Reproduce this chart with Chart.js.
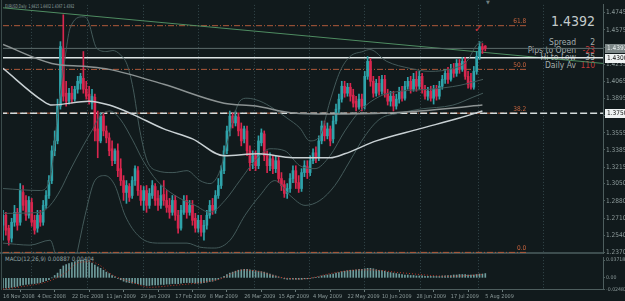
<!DOCTYPE html>
<html>
<head>
<meta charset="utf-8">
<script src="https://cdn.jsdelivr.net/npm/chart.js@4.4.1/dist/chart.umd.min.js"></script>
<style>
  html, body { margin: 0; padding: 0; background: #111a1c; overflow: hidden; }
  #wrap { position: relative; width: 625px; height: 301px; background: #111a1c;
    font-family: "Liberation Sans Narrow", "DejaVu Sans Condensed", "Liberation Sans", Arial, sans-serif; }
  canvas { position: absolute; left: 0; z-index: 2; }
  .t { position: absolute; white-space: nowrap; z-index: 1; line-height: 1; }
  .lab { right: 49px; font-size: 8.5px; color: #a3adad; }
  .val { right: 30px; font-size: 8.5px; color: #a3adad; }
  .red { color: #c23b3b; }
</style>
</head>
<body>
<div id="wrap">
  <div class="t" style="left:5px;top:4px;font-size:5px;color:#93a3a3;transform:scaleX(0.68);transform-origin:0 0">EURUSD,Daily&nbsp; 1.4415 1.4402 1.4367 1.4392</div>
  <div class="t" style="right:30px;top:14px;font-size:14px;color:#c3cbcb">1.4392</div>
  <div class="t lab" style="top:38px">Spread</div><div class="t val" style="top:38px">2</div>
  <div class="t lab" style="top:45.5px">Pips to Open</div><div class="t val red" style="top:45.5px">-23</div>
  <div class="t lab" style="top:53px">Hi to Low</div><div class="t val" style="top:53px">35</div>
  <div class="t lab" style="top:61px">Daily Av</div><div class="t val red" style="top:61px">110</div>
  <div class="t" style="left:474px;top:24px;font-size:10px;color:#e0343c;font-family:'DejaVu Sans'">✓</div>
  <div class="t" style="left:486px;top:0px;font-size:5px;color:#6f7f7f;font-family:'DejaVu Sans'">▼</div>
  <div class="t" style="left:5px;top:256px;font-size:6px;color:#93a3a3">MACD(12,26,9) 0.00887 0.00404</div>
  <div style="position:absolute;left:1px;top:0;width:1px;height:290px;background:#3b4b4b;z-index:1"></div>
  <div style="position:absolute;left:0;top:252px;width:603px;height:2px;background:#3d4d4e;z-index:1"></div>
  <canvas id="main" width="625" height="258" style="top:0"></canvas>
  <canvas id="macd" width="625" height="48" style="top:253px"></canvas>
</div>
<script>
// EURUSD daily, 16 Nov 2008 .. 5 Aug 2009 (one row per bar: open, high, low, close)
const ohlc = [
  [1.2639,1.2787,1.2491,1.2738],[1.2738,1.2767,1.2541,1.2590],[1.2610,1.2639,1.2442,1.2491],[1.2511,1.2708,1.2472,1.2669],
  [1.2669,1.2836,1.2629,1.2767],[1.2767,1.2806,1.2590,1.2639],[1.2669,1.3052,1.2639,1.2983],[1.2964,1.3033,1.2787,1.2836],
  [1.2885,1.2934,1.2688,1.2738],[1.2738,1.2924,1.2708,1.2885],[1.2865,1.2905,1.2629,1.2669],[1.2688,1.2738,1.2551,1.2590],
  [1.2610,1.2787,1.2570,1.2738],[1.2738,1.2787,1.2629,1.2669],[1.2669,1.2885,1.2639,1.2836],[1.2836,1.2983,1.2806,1.2934],
  [1.2934,1.3131,1.2905,1.3082],[1.3082,1.3426,1.3052,1.3377],[1.3377,1.3574,1.3328,1.3475],[1.3475,1.3889,1.3446,1.3820],
  [1.3820,1.4459,1.3790,1.4410],[1.4381,1.4725,1.3869,1.3918],[1.3948,1.4066,1.3820,1.3869],[1.3869,1.3997,1.3840,1.3948],
  [1.3948,1.4017,1.3849,1.3889],[1.3889,1.4017,1.3869,1.3987],[1.3987,1.4115,1.3948,1.4066],[1.4046,1.4145,1.3987,1.4115],
  [1.4095,1.4361,1.3948,1.3987],[1.3987,1.4066,1.3889,1.3918],[1.3938,1.4017,1.3840,1.3869],[1.3849,1.3987,1.3790,1.3918],
  [1.3908,1.3938,1.3475,1.3574],[1.3594,1.3771,1.3308,1.3475],[1.3475,1.3751,1.3456,1.3721],[1.3721,1.3751,1.3525,1.3574],
  [1.3574,1.3623,1.3456,1.3505],[1.3505,1.3554,1.3328,1.3377],[1.3397,1.3475,1.3229,1.3279],[1.3279,1.3397,1.3249,1.3377],
  [1.3377,1.3446,1.3121,1.3180],[1.3200,1.3298,1.3033,1.3082],[1.3082,1.3131,1.2885,1.2964],[1.2964,1.3082,1.2856,1.3033],
  [1.3023,1.3052,1.2875,1.2915],[1.2934,1.3121,1.2905,1.3082],[1.3082,1.3229,1.3033,1.3200],[1.3180,1.3220,1.2934,1.2983],
  [1.2983,1.3033,1.2836,1.2885],[1.2885,1.3023,1.2787,1.2983],[1.2983,1.3033,1.2767,1.2836],[1.2836,1.3003,1.2806,1.2954],
  [1.2934,1.3082,1.2905,1.3033],[1.3023,1.3052,1.2836,1.2885],[1.2905,1.2983,1.2787,1.2836],[1.2836,1.3033,1.2806,1.2934],
  [1.2944,1.3082,1.2836,1.2885],[1.2885,1.2983,1.2767,1.2816],[1.2836,1.2905,1.2708,1.2767],[1.2767,1.2934,1.2738,1.2885],
  [1.2885,1.2934,1.2688,1.2738],[1.2738,1.2787,1.2560,1.2610],[1.2610,1.2836,1.2590,1.2787],[1.2767,1.2934,1.2747,1.2885],
  [1.2885,1.2934,1.2708,1.2767],[1.2767,1.2885,1.2738,1.2836],[1.2836,1.2885,1.2639,1.2688],[1.2708,1.2757,1.2570,1.2610],
  [1.2610,1.2738,1.2570,1.2688],[1.2688,1.2738,1.2531,1.2570],[1.2570,1.2688,1.2491,1.2639],[1.2639,1.2787,1.2600,1.2738],
  [1.2738,1.2885,1.2708,1.2836],[1.2836,1.2905,1.2747,1.2787],[1.2787,1.2983,1.2757,1.2934],[1.2934,1.3102,1.2905,1.3033],
  [1.3033,1.3229,1.3003,1.3180],[1.3180,1.3426,1.3151,1.3377],[1.3377,1.3623,1.3347,1.3574],[1.3574,1.3771,1.3525,1.3721],
  [1.3721,1.3751,1.3603,1.3653],[1.3653,1.3771,1.3623,1.3721],[1.3712,1.3751,1.3525,1.3574],[1.3594,1.3653,1.3426,1.3475],
  [1.3495,1.3623,1.3456,1.3594],[1.3574,1.3623,1.3328,1.3377],[1.3377,1.3426,1.3180,1.3259],[1.3259,1.3377,1.3200,1.3328],
  [1.3328,1.3377,1.3180,1.3229],[1.3229,1.3525,1.3200,1.3475],[1.3456,1.3594,1.3426,1.3554],[1.3544,1.3574,1.3279,1.3328],
  [1.3328,1.3377,1.3161,1.3229],[1.3229,1.3357,1.3180,1.3298],[1.3298,1.3328,1.3151,1.3200],[1.3200,1.3328,1.3161,1.3279],
  [1.3279,1.3318,1.3062,1.3102],[1.3102,1.3161,1.2983,1.3033],[1.3042,1.3082,1.2915,1.2954],[1.2954,1.3052,1.2905,1.3003],
  [1.3003,1.3151,1.2964,1.3102],[1.3102,1.3229,1.3062,1.3180],[1.3180,1.3229,1.3003,1.3062],[1.3062,1.3131,1.2964,1.3003],
  [1.3003,1.3200,1.2974,1.3161],[1.3161,1.3279,1.3121,1.3229],[1.3220,1.3279,1.3102,1.3161],[1.3161,1.3328,1.3131,1.3279],
  [1.3279,1.3397,1.3249,1.3357],[1.3357,1.3416,1.3259,1.3308],[1.3308,1.3525,1.3279,1.3475],[1.3475,1.3672,1.3446,1.3623],
  [1.3623,1.3672,1.3475,1.3525],[1.3525,1.3653,1.3495,1.3594],[1.3594,1.3623,1.3426,1.3475],[1.3495,1.3721,1.3456,1.3672],
  [1.3672,1.3840,1.3643,1.3790],[1.3790,1.3938,1.3751,1.3889],[1.3889,1.4066,1.3859,1.4017],[1.4017,1.4066,1.3908,1.3948],
  [1.3948,1.4046,1.3918,1.4007],[1.4007,1.4046,1.3869,1.3918],[1.3928,1.3987,1.3810,1.3849],[1.3869,1.3918,1.3771,1.3810],
  [1.3810,1.3938,1.3790,1.3889],[1.3889,1.3938,1.3771,1.3820],[1.3820,1.4164,1.3790,1.4115],[1.4115,1.4312,1.4085,1.4263],
  [1.4263,1.4292,1.4017,1.4066],[1.4066,1.4115,1.3908,1.3948],[1.3948,1.4085,1.3918,1.4046],[1.4046,1.4115,1.3928,1.3967],
  [1.3967,1.4125,1.3938,1.4085],[1.4085,1.4125,1.3908,1.3948],[1.3948,1.3987,1.3830,1.3869],[1.3869,1.3967,1.3820,1.3918],
  [1.3918,1.3967,1.3771,1.3820],[1.3820,1.3938,1.3790,1.3889],[1.3889,1.4007,1.3849,1.3967],[1.3967,1.4017,1.3869,1.3898],
  [1.3898,1.4066,1.3879,1.4017],[1.4017,1.4105,1.3987,1.4066],[1.4066,1.4115,1.3948,1.3987],[1.3987,1.4145,1.3967,1.4085],
  [1.4085,1.4164,1.3967,1.4017],[1.4017,1.4164,1.3987,1.4115],[1.4115,1.4145,1.3948,1.3987],[1.3987,1.4026,1.3889,1.3918],
  [1.3918,1.4007,1.3879,1.3967],[1.3967,1.4017,1.3869,1.3898],[1.3898,1.4026,1.3840,1.3987],[1.3987,1.4026,1.3879,1.3918],
  [1.3918,1.4066,1.3889,1.4017],[1.4017,1.4125,1.3987,1.4085],[1.4085,1.4184,1.4046,1.4145],[1.4145,1.4204,1.4046,1.4085],
  [1.4085,1.4233,1.4066,1.4184],[1.4184,1.4243,1.4105,1.4145],[1.4145,1.4282,1.4115,1.4243],[1.4243,1.4282,1.4145,1.4184],
  [1.4184,1.4302,1.4164,1.4263],[1.4263,1.4302,1.4085,1.4115],[1.4115,1.4164,1.3997,1.4036],[1.4066,1.4145,1.3987,1.4007],
  [1.4007,1.4213,1.3987,1.4164],[1.4164,1.4361,1.4135,1.4312],[1.4312,1.4459,1.4282,1.4410],[1.4410,1.4440,1.4341,1.4381],
  [1.4415,1.4420,1.4367,1.4392]
];

// moving averages, read at a few bars: [bar, price]
const maSlow = [[0,1.4430],[17,1.4243],[29,1.4213],[37,1.4184],[56,1.4036],[77,1.3849],[88,1.3820],[101,1.3751],
  [114,1.3741],[134,1.3751],[145,1.3771],[167,1.3830]];
const maFast = [[0,1.4194],[14,1.3869],[17,1.3830],[30,1.3869],[37,1.3830],[45,1.3741],[56,1.3594],[66,1.3495],
  [77,1.3328],[89,1.3347],[101,1.3308],[114,1.3308],[119,1.3347],[130,1.3475],[145,1.3594],[159,1.3702],[167,1.3771]];

// bollinger bands
const bbUpper = [[0,1.3003],[12.9,1.2983],[16.4,1.3102],[19.2,1.3771],[21.6,1.4292],[23.3,1.4587],[27.9,1.4705],
  [29.3,1.4686],[32.7,1.4391],[36.2,1.4361],[38.3,1.4371],[40.8,1.4331],[43.2,1.4233],[45.3,1.3997],[47.7,1.3574],
  [50.2,1.3279],[53.6,1.3180],[59.2,1.3161],[64.1,1.3180],[68.6,1.3082],[72.1,1.3052],[75.6,1.3180],[78,1.3446],
  [82.5,1.3869],[85,1.3898],[89.5,1.3869],[94,1.3800],[98.9,1.3702],[103.4,1.3603],[106.9,1.3475],[110.4,1.3525],
  [113.9,1.3869],[117.4,1.4164],[120.9,1.4312],[125.4,1.4361],[127.8,1.4381],[133.7,1.4263],[141.8,1.4194],
  [148.7,1.4164],[156.7,1.4194],[161.6,1.4263],[165.1,1.4430],[167.2,1.4459]];
const bbMiddle = [[0,1.2757],[12.9,1.2767],[16.4,1.2836],[19.9,1.2983],[23.3,1.3180],[27.9,1.3426],[31.3,1.3594],
  [33.8,1.3721],[37.3,1.3771],[40.8,1.3692],[45.3,1.3475],[48.8,1.3279],[53.6,1.3082],[59.9,1.2934],[66.9,1.2836],
  [72.1,1.2767],[77.3,1.2885],[82.5,1.3082],[87.8,1.3279],[93,1.3397],[98.2,1.3377],[103.4,1.3229],[108.7,1.3200],
  [113.9,1.3328],[119.1,1.3574],[124.3,1.3771],[131.3,1.3918],[138.3,1.3967],[148.7,1.3987],[159.2,1.4026],[167.2,1.4085]];
const bbLower = [[0,1.2462],[9.4,1.2442],[16.4,1.2491],[18.8,1.2275],[21.6,1.1901],[25.1,1.2275],[28.6,1.2738],
  [32,1.3082],[35.5,1.3131],[39,1.3033],[42.5,1.2738],[47.7,1.2521],[54.7,1.2462],[64.1,1.2462],[68.6,1.2422],
  [73.8,1.2413],[79.1,1.2491],[84.3,1.2738],[89.5,1.2934],[94.7,1.3082],[100,1.2934],[105.2,1.2836],[110.4,1.2885],
  [115.6,1.3033],[120.9,1.3279],[126.1,1.3525],[131.3,1.3692],[138.3,1.3751],[145.2,1.3790],[156.7,1.3830],
  [163.7,1.3908],[167.2,1.3948]];

const trendLine = [[0,1.4794],[209,1.4243]];
const fibLabels = ['61.8','50.0','38.2','0.0'];
const fibPrices = [1.4617,1.4184,1.3750,1.2370];
const fibEnd = 182.6;
const bidPrice = 1.4392;
const levelWhite = 1.4300;
const levelDashed = 1.3750;

const priceTicks = [1.4745,1.4575,1.4405,1.4235,1.4065,1.3895,1.3725,1.3555,1.3385,1.3215,1.3050,1.2880,1.2710,1.2540,1.2370];
const dateLabels = ['16 Nov 2008','4 Dec 2008','22 Dec 2008','11 Jan 2009','29 Jan 2009','17 Feb 2009','8 Mar 2009',
  '26 Mar 2009','15 Apr 2009','4 May 2009','22 May 2009','10 Jun 2009','28 Jun 2009','17 Jul 2009','5 Aug 2009'];
const dateBars = [0,12,24,36,48,60,72,84,96,108,120,132,144,156,168];
const gridBars = [9.75,29.26,48.76,67.92,87.43,106.59,125.74,145.25,165.45,188.09];

// MACD(12,26,9)
const macdMain = [
  -0.021,-0.021,-0.021,-0.020,-0.019,-0.018,-0.016,-0.015,-0.014,-0.013,
  -0.012,-0.012,-0.011,-0.010,-0.008,-0.006,-0.004,0.000,0.005,0.010,
  0.018,0.025,0.028,0.030,0.032,0.034,0.036,0.037,0.037,0.036,
  0.034,0.031,0.027,0.023,0.020,0.016,0.012,0.009,0.005,0.002,
  -0.001,-0.004,-0.007,-0.009,-0.010,-0.011,-0.011,-0.012,-0.014,-0.015,
  -0.016,-0.016,-0.015,-0.015,-0.015,-0.014,-0.014,-0.013,-0.013,-0.012,
  -0.012,-0.012,-0.011,-0.010,-0.010,-0.010,-0.010,-0.011,-0.011,-0.011,
  -0.010,-0.009,-0.008,-0.007,-0.005,-0.003,0.000,0.003,0.007,0.010,
  0.012,0.014,0.016,0.017,0.018,0.018,0.017,0.016,0.015,0.014,
  0.013,0.012,0.010,0.008,0.006,0.004,0.002,0.000,-0.002,-0.003,
  -0.003,-0.003,-0.003,-0.003,-0.003,-0.002,-0.002,-0.001,0.000,0.001,
  0.002,0.004,0.005,0.006,0.007,0.008,0.010,0.011,0.013,0.014,
  0.015,0.016,0.016,0.017,0.018,0.018,0.019,0.020,0.020,0.019,
  0.017,0.016,0.015,0.014,0.012,0.011,0.010,0.009,0.008,0.007,
  0.006,0.006,0.005,0.005,0.004,0.004,0.004,0.003,0.003,0.003,
  0.003,0.003,0.003,0.004,0.004,0.005,0.005,0.006,0.006,0.007,
  0.007,0.007,0.006,0.006,0.006,0.007,0.008,0.008,0.009
];
const macdSignal = [[0,-0.0236],[6,-0.019],[16.4,-0.006],[22,0.012],[25.8,0.031],[30.3,0.0339],[33.8,0.0262],
  [37.3,0.009],[45.3,-0.0102],[51.2,-0.0198],[59.2,-0.0159],[68.6,-0.0101],[75.6,-0.0025],[83.6,0.0167],[89.5,0.0129],
  [96.5,0.0013],[103.5,-0.0025],[107,-0.0006],[114,0.009],[124.4,0.0167],[127.9,0.0167],[138.3,0.0109],
  [155.7,0.0033],[167.3,0.0071]];
const macdTicks = [0.03718, 0, -0.02482];

const BULL = '#2fa3aa';
const BEAR = '#d8264e';
const AXIS = '#4e5e5e';
const TXT = '#8d9b9b';
const FONT = '"Liberation Sans Narrow", "DejaVu Sans Condensed", "Liberation Sans"';

const pts = arr => arr.map(p => ({x: p[0], y: p[1]}));
const hline = (v, from, to) => [{x: from, y: v}, {x: to, y: v}];
const candleColor = ohlc.map(r => r[3] >= r[0] ? BULL : BEAR);

function lineSet(data, color, width, order, extra) {
  return Object.assign({
    type: 'line', data: data, borderColor: color, borderWidth: width,
    pointRadius: 0, tension: 0.4, cubicInterpolationMode: 'monotone', order: order
  }, extra || {});
}

const vGrid = {
  id: 'vGrid',
  beforeDatasetsDraw(chart) {
    const {ctx, chartArea: a, scales: {x}} = chart;
    ctx.save();
    ctx.strokeStyle = '#34474a';
    ctx.lineWidth = 1;
    ctx.setLineDash([1, 2]);
    gridBars.forEach(v => {
      const px = Math.round(x.getPixelForValue(v)) + 0.5;
      ctx.beginPath(); ctx.moveTo(px, a.top); ctx.lineTo(px, a.bottom); ctx.stroke();
    });
    ctx.restore();
  }
};

const priceMarks = {
  id: 'priceMarks',
  afterDraw(chart) {
    const {ctx, scales: {x, y}} = chart;
    ctx.save();
    // fibo level captions
    ctx.font = '6.5px ' + FONT;
    ctx.fillStyle = '#c8643e';
    ctx.textAlign = 'right';
    ctx.textBaseline = 'bottom';
    fibLabels.forEach((t, i) => {
      ctx.fillText(t, x.getPixelForValue(fibEnd) - 1, y.getPixelForValue(fibPrices[i]) - 1);
    });
    // boxes on the price scale
    const boxes = [
      {v: bidPrice, bg: '#7d8888', fg: '#e8eeee'},
      {v: levelWhite, bg: '#eef2f2', fg: '#111'},
      {v: levelDashed, bg: '#eef2f2', fg: '#111'}
    ];
    ctx.textAlign = 'left';
    ctx.textBaseline = 'middle';
    boxes.forEach(b => {
      const py = Math.round(y.getPixelForValue(b.v));
      ctx.fillStyle = b.bg;
      ctx.fillRect(y.left + 2, py - 4, 21, 9);
      ctx.fillStyle = b.fg;
      ctx.fillText(b.v.toFixed(4), y.left + 4, py + 0.5);
    });
    ctx.restore();
  }
};

const tickFont = {family: FONT, size: 6.5};

new Chart(document.getElementById('main'), {
  type: 'bar',
  data: {
    datasets: [
      lineSet(pts(maFast), '#c9d1d4', 1.5, 1),
      lineSet(pts(maSlow), '#8c9393', 1.5, 1),
      lineSet(pts(bbUpper), '#445a5a', 1, 2),
      lineSet(pts(bbMiddle), '#445a5a', 1, 2),
      lineSet(pts(bbLower), '#445a5a', 1, 2),
      {type: 'bar', data: ohlc.map((r, i) => ({x: i, y: [r[0], r[3]]})), backgroundColor: candleColor,
        barThickness: 2, grouped: false, borderWidth: 0, order: 3},
      {type: 'bar', data: ohlc.map((r, i) => ({x: i, y: [r[2], r[1]]})), backgroundColor: candleColor,
        barThickness: 1, grouped: false, borderWidth: 0, order: 4},
      lineSet(hline(levelDashed, -1, 210), '#d5dcdc', 1.5, 5, {borderDash: [7, 3], tension: 0}),
      lineSet(hline(levelWhite, -1, 210), '#dfe6e6', 1.5, 6, {tension: 0}),
      lineSet(hline(bidPrice, -1, 210), '#5d6c6c', 1, 6, {tension: 0}),
      lineSet(pts(trendLine), '#4f8d62', 1, 7, {tension: 0}),
      ...fibPrices.map(v => lineSet(hline(v, 0, fibEnd), '#b05a3a', 1, 8, {borderDash: [6, 2, 1, 2], tension: 0}))
    ]
  },
  options: {
    responsive: false,
    animation: false,
    devicePixelRatio: 1,
    events: [],
    layout: {padding: {left: 3, top: 3, right: 0, bottom: 5}},
    plugins: {legend: {display: false}, tooltip: {enabled: false}},
    scales: {
      x: {type: 'linear', min: 0, max: 209, offset: false, display: false},
      y: {
        type: 'linear', position: 'right', min: 1.2364, max: 1.4823,
        afterBuildTicks: s => { s.ticks = priceTicks.map(v => ({value: v})); },
        afterFit: s => { s.width = 22; },
        grid: {drawOnChartArea: false, drawTicks: true, tickLength: 2, color: AXIS},
        border: {display: true, color: AXIS},
        ticks: {autoSkip: false, padding: 1, color: TXT, font: tickFont, callback: v => v.toFixed(4)}
      }
    }
  },
  plugins: [vGrid, priceMarks]
});

new Chart(document.getElementById('macd'), {
  type: 'bar',
  data: {
    datasets: [
      lineSet(pts(macdSignal), '#c0392b', 1, 1, {borderDash: [1, 2]}),
      {type: 'bar', data: macdMain.map((v, i) => ({x: i, y: v})), backgroundColor: '#6f9c9c',
        barThickness: 1, grouped: false, borderWidth: 0, order: 2}
    ]
  },
  options: {
    responsive: false,
    animation: false,
    devicePixelRatio: 1,
    events: [],
    layout: {padding: {left: 3, top: 1, right: 0, bottom: 0}},
    plugins: {legend: {display: false}, tooltip: {enabled: false}},
    scales: {
      x: {
        type: 'linear', min: 0, max: 209, offset: false,
        afterBuildTicks: s => { s.ticks = dateBars.map(v => ({value: v})); },
        afterFit: s => { s.height = 11; },
        grid: {drawOnChartArea: false, drawTicks: true, tickLength: 2, color: '#6a7a7a'},
        border: {display: true, color: AXIS},
        ticks: {autoSkip: false, maxRotation: 0, align: 'start', padding: 1, color: TXT,
          font: {family: FONT, size: 5.5}, callback: (v, i) => dateLabels[i]}
      },
      y: {
        type: 'linear', position: 'right', min: -0.02549, max: 0.0435,
        afterBuildTicks: s => { s.ticks = macdTicks.map(v => ({value: v})); },
        afterFit: s => { s.width = 22; },
        grid: {drawOnChartArea: false, drawTicks: true, tickLength: 2, color: AXIS},
        border: {display: true, color: AXIS},
        ticks: {autoSkip: false, padding: 1, color: TXT, font: {family: FONT, size: 5.2},
          callback: v => v === 0 ? '0.00' : v.toFixed(5)}
      }
    }
  },
  plugins: [vGrid]
});
</script>
</body>
</html>
